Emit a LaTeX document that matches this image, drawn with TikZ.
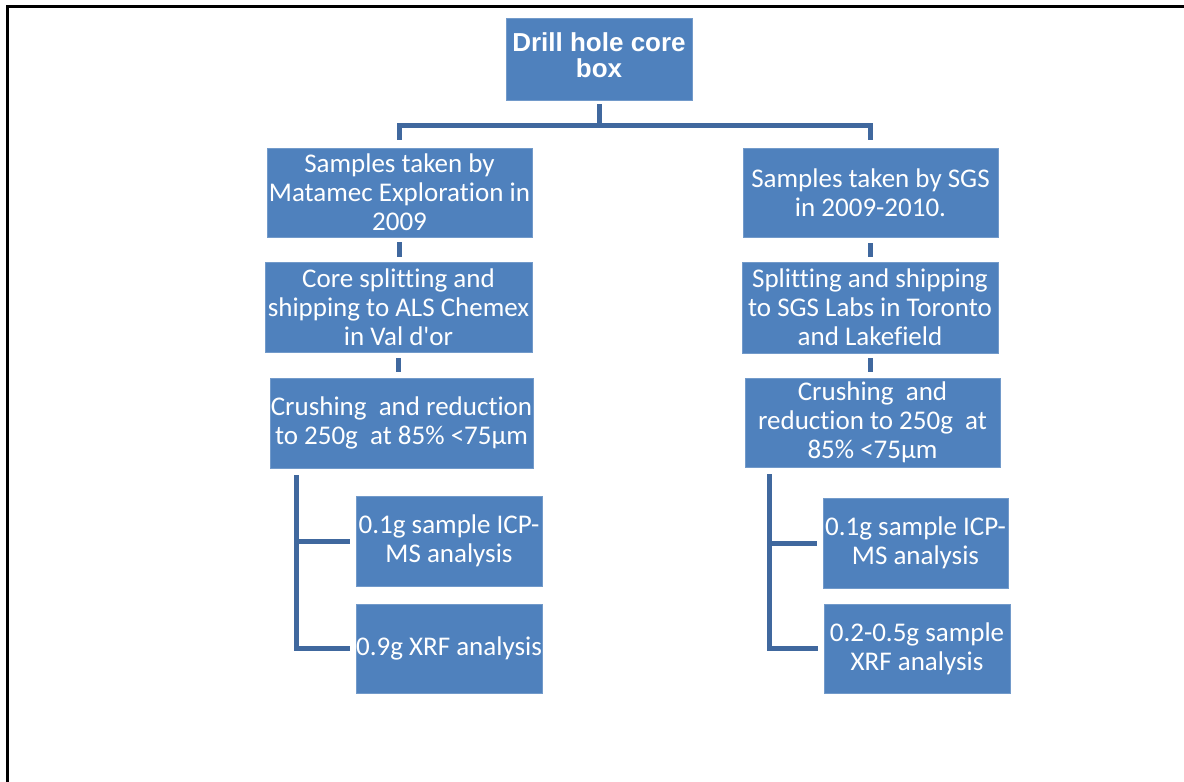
\documentclass[tikz,border=0pt]{standalone}
\usepackage{fontspec}
\setmainfont{Carlito}[Ligatures = NoCommon]
\newfontfamily\titlefont{Liberation Sans}
\definecolor{boxblue}{HTML}{4F81BD}
\definecolor{linkblue}{RGB}{64,104,158}
\tikzset{
  stepbox/.style = {fill = boxblue, draw = boxblue!80!white, line width = 0.4pt, text = white,
                    align = center, inner sep = 0pt, font = \fontsize{13.5}{14.5}\selectfont},
  link/.style = {draw = linkblue, line width = 2.5pt}
}
\begin{document}
\begin{tikzpicture}[x = 0.5pt, y = -0.5pt]
            \useasboundingbox (0,0) rectangle (1184,782);
            \draw[line width = 1.5pt] (7,782) -- (7,6) -- (1184,6);
            % top of the tree
            \node[stepbox, minimum width = 93pt, minimum height = 41pt, text depth = 4pt,
                  font = \titlefont\bfseries\fontsize{13}{13}\selectfont] (core) at (599,59) {Drill hole core\\box};
            % left branch
            \node[stepbox, minimum width = 132.5pt, minimum height = 44.5pt] (mat) at (399.5,192.5) {Samples taken by\\Matamec Exploration in\\2009};
            \node[stepbox, minimum width = 133.5pt, minimum height = 45pt] (als) at (398.5,307) {Core splitting and\\shipping to ALS Chemex\\in Val d\textquotesingle or};
            \node[stepbox, minimum width = 131.5pt, minimum height = 45pt] (crushA) at (401.5,423) {Crushing\ \ and reduction\\to 250g\ \ at 85\% <75µm};
            \node[stepbox, minimum width = 93pt, minimum height = 45pt] (icpA) at (449,541) {0.1g sample ICP-\\MS analysis};
            \node[stepbox, minimum width = 93pt, minimum height = 44.5pt] (xrfA) at (449,648.5) {0.9g XRF analysis};
            % right branch
            \node[stepbox, minimum width = 127.5pt, minimum height = 44.5pt] (sgs) at (870.5,192.5) {Samples taken by SGS\\in 2009-2010.};
            \node[stepbox, minimum width = 128pt, minimum height = 45.5pt] (labs) at (870,307.5) {Splitting and shipping\\to SGS Labs in Toronto\\and Lakefield};
            \node[stepbox, minimum width = 127.5pt, minimum height = 44.5pt] (crushB) at (872.5,422.5) {Crushing\ \ and\\reduction to 250g\ \ at\\85\% <75µm};
            \node[stepbox, minimum width = 92.5pt, minimum height = 45pt] (icpB) at (915.5,543) {0.1g sample ICP-\\MS analysis};
            \node[stepbox, minimum width = 93pt, minimum height = 44.5pt] (xrfB) at (917,648.5) {0.2-0.5g sample\\XRF analysis};
            % connectors
            \coordinate (fork) at (599,125);
            \draw[link, shorten <= 2pt] (core.south) -- (fork);
            \draw[link, shorten <= 4pt, shorten >= 4pt] (mat.north) |- (fork) -| (sgs.north);
            \draw[link, shorten <= 2.5pt, shorten >= 2.5pt] (mat.south) -- (mat.south |- als.north);
            \draw[link, shorten <= 3pt, shorten >= 3pt] (als.south) -- (als.south |- crushA.north);
            \draw[link, shorten <= 3pt, shorten >= 2.5pt] (sgs.south) -- (sgs.south |- labs.north);
            \draw[link, shorten <= 2.5pt, shorten >= 3pt] (labs.south) -- (labs.south |- crushB.north);
            \coordinate (splitA) at (296,475);
            \coordinate (splitB) at (769,474);
            \draw[link, shorten >= 3pt] (splitA) |- (icpA.west);
            \draw[link, shorten >= 3pt] (splitA) |- (xrfA.west);
            \draw[link, shorten >= 3pt] (splitB) |- (icpB.west);
            \draw[link, shorten >= 3pt] (splitB) |- (xrfB.west);
        \end{tikzpicture}
\end{document}
